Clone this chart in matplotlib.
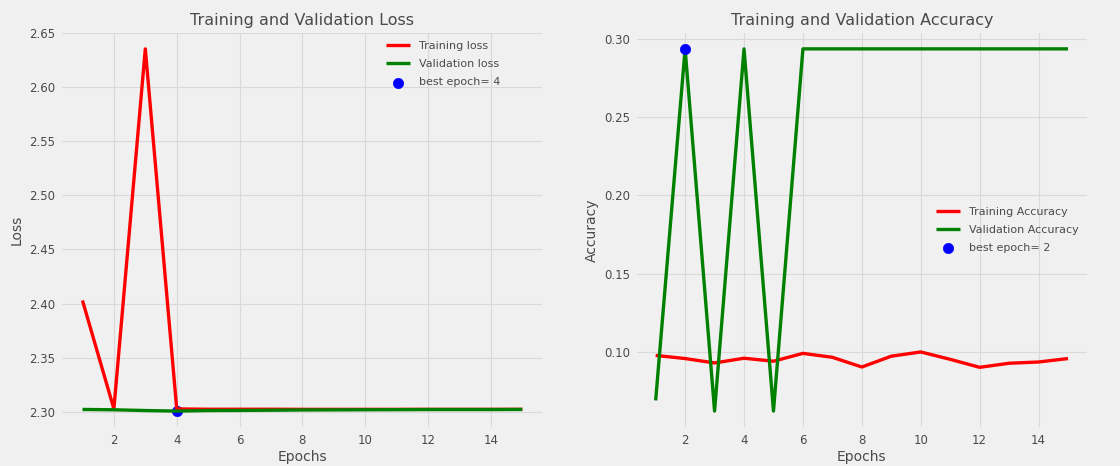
import numpy as np
import matplotlib
matplotlib.use("Agg")
import matplotlib.pyplot as plt

# Epoch history
epochs = list(range(1, 16))
train_loss = [2.403, 2.303, 2.635, 2.303, 2.3027, 2.3027, 2.3027, 2.3026,
              2.3026, 2.3026, 2.3026, 2.3026, 2.3026, 2.3026, 2.3026]
val_loss = [2.3025, 2.3022, 2.3015, 2.3010, 2.3015, 2.3016, 2.3018, 2.3020,
            2.3021, 2.3022, 2.3023, 2.3024, 2.3024, 2.3024, 2.3025]
train_acc = [0.098, 0.096, 0.0932, 0.0962, 0.0943, 0.0993, 0.0968, 0.0906,
             0.0975, 0.1002, 0.0955, 0.0904, 0.0930, 0.0938, 0.0960]
val_acc = [0.0693, 0.2935, 0.0625, 0.2935, 0.0625, 0.2935, 0.2935, 0.2935,
           0.2935, 0.2935, 0.2935, 0.2935, 0.2935, 0.2935, 0.2935]

index_loss = int(np.argmin(val_loss))
index_acc = int(np.argmax(val_acc))
loss_label = f'best epoch= {index_loss + 1}'
acc_label = f'best epoch= {index_acc + 1}'

plt.style.use('fivethirtyeight')
plt.rcParams['font.family'] = ['DejaVu Sans']
plt.rcParams['grid.color'] = '#d9d9d9'
plt.rcParams['grid.linewidth'] = 0.8
txt = '#4a4a4a'

fig = plt.figure(figsize=(11.2, 4.66), dpi=100)
ax1 = fig.add_axes([0.054, 0.079, 0.432, 0.855])
ax2 = fig.add_axes([0.567, 0.079, 0.405, 0.855])

ax1.plot(epochs, train_loss, 'r', lw=2.4, label='Training loss')
ax1.plot(epochs, val_loss, 'g', lw=2.4, label='Validation loss')
ax1.scatter(index_loss + 1, val_loss[index_loss], s=55, c='blue', label=loss_label, zorder=1)
ax1.set_title('Training and Validation Loss', fontsize=11.5, color=txt, pad=4)
ax1.set_xlabel('Epochs', fontsize=10, color=txt, labelpad=2)
ax1.set_ylabel('Loss', fontsize=10, color=txt)
ax1.legend(loc='upper right', bbox_to_anchor=(0.93, 1.0), fontsize=8, labelcolor=txt,
           frameon=False, labelspacing=0.75, handlelength=2.2)

ax2.plot(epochs, train_acc, 'r', lw=2.4, label='Training Accuracy')
ax2.plot(epochs, val_acc, 'g', lw=2.4, label='Validation Accuracy')
ax2.scatter(index_acc + 1, val_acc[index_acc], s=55, c='blue', label=acc_label, zorder=3)
ax2.set_title('Training and Validation Accuracy', fontsize=11.5, color=txt, pad=4)
ax2.set_xlabel('Epochs', fontsize=10, color=txt, labelpad=2)
ax2.set_ylabel('Accuracy', fontsize=10, color=txt)
ax2.legend(loc='center right', fontsize=8, labelcolor=txt,
           frameon=False, labelspacing=0.75, handlelength=2.2)

for ax in (ax1, ax2):
    ax.tick_params(labelsize=8.5, labelcolor=txt)

plt.savefig('out.png', dpi=100)
